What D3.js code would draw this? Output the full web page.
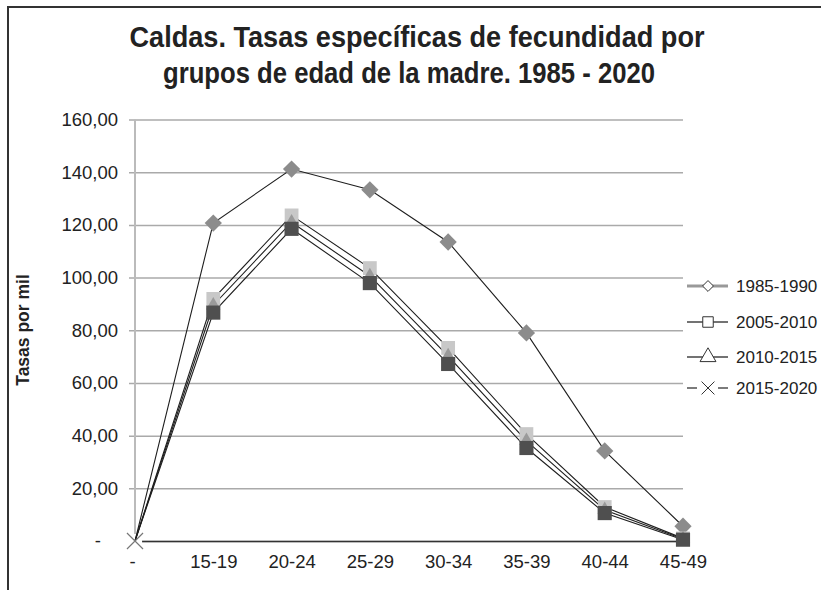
<!DOCTYPE html>
<html>
<head>
<meta charset="utf-8">
<script src="https://cdn.jsdelivr.net/npm/d3@7"></script>
<style>
  body { margin: 0; background: #fff; }
  text { font-family: "Liberation Sans", Arial, sans-serif; fill: #222; }
</style>
</head>
<body>
<div id="chart"></div>
<script>
const ageGroups = ["-", "15-19", "20-24", "25-29", "30-34", "35-39", "40-44", "45-49"];
const yTicks = [0, 20, 40, 60, 80, 100, 120, 140, 160];
const yTickLabels = ["-", "20,00", "40,00", "60,00", "80,00", "100,00", "120,00", "140,00", "160,00"];

const periods = ["1985-1990", "2005-2010", "2010-2015", "2015-2020"];
const rates1985 = [0, 120.7, 141.2, 133.3, 113.5, 79.0, 34.2, 5.6];
const rates2005 = [0, 91.9, 123.6, 103.6, 73.3, 40.6, 12.9, 1.0];
const rates2010 = [0, 89.5, 121.0, 100.6, 70.2, 38.0, 11.8, 0.8];
const rates2015 = [0, 86.7, 118.5, 97.9, 67.2, 35.3, 10.6, 0.5];

const width = 821, height = 590;
const margin = { top: 119.5, right: 138, bottom: 49, left: 135 };

const svg = d3.select("#chart").append("svg")
  .attr("width", width)
  .attr("height", height);

// outer frame, cut by the right and bottom edge like the original
svg.append("rect")
  .attr("x", 8).attr("y", 7)
  .attr("width", 830).attr("height", 600)
  .attr("fill", "none").attr("stroke", "#333").attr("stroke-width", 2);

const x = d3.scalePoint()
  .domain(ageGroups)
  .range([margin.left, width - margin.right]);

const y = d3.scaleLinear()
  .domain([0, 160])
  .range([height - margin.bottom, margin.top]);

// title
const title = svg.append("g");
title.append("text")
  .attr("x", 417).attr("y", 47)
  .attr("text-anchor", "middle")
  .attr("font-size", 29).attr("font-weight", "bold")
  .attr("textLength", 575).attr("lengthAdjust", "spacingAndGlyphs")
  .text("Caldas. Tasas específicas de fecundidad por");
title.append("text")
  .attr("x", 409).attr("y", 83)
  .attr("text-anchor", "middle")
  .attr("font-size", 29).attr("font-weight", "bold")
  .attr("textLength", 492).attr("lengthAdjust", "spacingAndGlyphs")
  .text("grupos de edad de la madre. 1985 - 2020");

// gridlines + y axis
const yAxis = svg.append("g")
  .attr("transform", `translate(${margin.left},0)`)
  .call(d3.axisLeft(y)
    .tickValues(yTicks)
    .tickSize(-(width - margin.right - margin.left))
    .tickPadding(17)
    .tickFormat((d, i) => yTickLabels[i]));
yAxis.select(".domain").remove();
yAxis.selectAll(".tick line")
  .attr("x1", -6)
  .attr("stroke", "#aaa").attr("stroke-width", 1.5);
yAxis.selectAll(".tick text")
  .attr("font-size", 18.5).attr("fill", "#222")
  .attr("font-family", "Liberation Sans, Arial, sans-serif")
  .attr("x", d => d === 0 ? -34 : -17);

svg.append("line")
  .attr("x1", margin.left).attr("x2", margin.left)
  .attr("y1", y(160)).attr("y2", y(0))
  .attr("stroke", "#bbb").attr("stroke-width", 2);

// x axis
const xAxis = svg.append("g")
  .attr("transform", `translate(0,${y(0)})`)
  .call(d3.axisBottom(x).tickSize(0).tickPadding(14));
xAxis.select(".domain")
  .attr("stroke", "#333").attr("stroke-width", 1.5);
xAxis.selectAll(".tick text")
  .attr("font-size", 18.5).attr("fill", "#222")
  .attr("font-family", "Liberation Sans, Arial, sans-serif")
  .attr("dx", d => d === "-" ? -3 : 0);

// y axis title
svg.append("text")
  .attr("transform", `translate(29,${330}) rotate(-90)`)
  .attr("text-anchor", "middle")
  .attr("font-size", 17.5).attr("font-weight", "bold")
  .text("Tasas por mil");

const series = [
  { name: periods[0], values: rates1985, marker: "diamond", fill: "#8c8c8c", size: 190 },
  { name: periods[1], values: rates2005, marker: "square", fill: "#c8c8c8", size: 190 },
  { name: periods[2], values: rates2010, marker: "triangle", fill: "#9a9a9a", size: 90 },
  { name: periods[3], values: rates2015, marker: "square", fill: "#4f4f4f", size: 200 }
];

const symbolType = {
  diamond: d3.symbolDiamond2,
  square: d3.symbolSquare,
  triangle: d3.symbolTriangle,
  cross: d3.symbolX
};

const line = d3.line()
  .x((d, i) => x(ageGroups[i]))
  .y(d => y(d));

const plot = svg.append("g");

// white box behind the origin marker
plot.append("path")
  .attr("transform", `translate(${x(ageGroups[0])},${y(rates2015[0])})`)
  .attr("fill", "#fff")
  .attr("d", d3.symbol().type(d3.symbolSquare).size(200));

series.forEach(s => {
  plot.append("path")
    .datum(s.values)
    .attr("fill", "none")
    .attr("stroke", "#1e1e1e")
    .attr("stroke-width", 1.1)
    .attr("d", line);
});

series.forEach(s => {
  plot.selectAll(null)
    .data(s.values.slice(1))
    .enter()
    .append("path")
    .attr("transform", (d, i) => `translate(${x(ageGroups[i + 1])},${y(d)})`)
    .attr("fill", s.fill)
    .attr("d", d3.symbol().type(symbolType[s.marker]).size(s.size));
});

// cross marker at the origin
plot.append("path")
  .attr("transform", `translate(${x(ageGroups[0])},${y(rates2015[0])})`)
  .attr("fill", "none")
  .attr("stroke", "#777").attr("stroke-width", 1.2)
  .attr("d", d3.symbol().type(d3.symbolX).size(170));

// legend
const legendY = [286, 322, 357, 388];
const legendMarker = ["diamond", "square", "triangle", "cross"];
const legend = svg.append("g");
periods.forEach((p, i) => {
  const g = legend.append("g").attr("transform", `translate(0,${legendY[i]})`);
  if (i === 3) {
    g.append("line").attr("x1", 687).attr("x2", 697).attr("y1", 0).attr("y2", 0)
      .attr("stroke", "#333").attr("stroke-width", 1.3);
    g.append("line").attr("x1", 718).attr("x2", 728).attr("y1", 0).attr("y2", 0)
      .attr("stroke", "#333").attr("stroke-width", 1.3);
  } else {
    g.append("line").attr("x1", 687).attr("x2", 728).attr("y1", 0).attr("y2", 0)
      .attr("stroke", i === 0 ? "#999" : "#444")
      .attr("stroke-width", i === 0 ? 3 : 1.3);
  }
  g.append("path")
    .attr("transform", "translate(708,0)")
    .attr("fill", i === 3 ? "none" : "#fff")
    .attr("stroke", "#333").attr("stroke-width", 1)
    .attr("d", d3.symbol().type(symbolType[legendMarker[i]]).size(i === 0 ? 75 : 110));
  g.append("text")
    .attr("x", 736).attr("y", 0).attr("dy", "0.35em")
    .attr("font-size", 17)
    .text(p);
});
</script>
</body>
</html>
